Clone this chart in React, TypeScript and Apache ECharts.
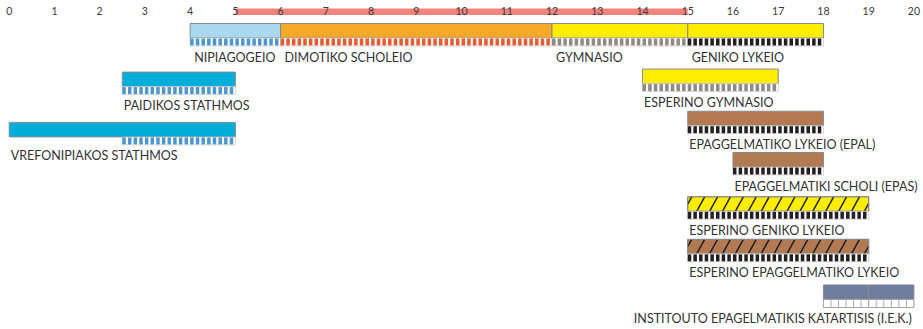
import React, { useEffect, useRef } from "react";
import * as echarts from "echarts";

// ---- data ----
const schoolLabels = [
  "NIPIAGOGEIO",
  "DIMOTIKO SCHOLEIO",
  "GYMNASIO",
  "GENIKO LYKEIO",
  "PAIDIKOS STATHMOS",
  "VREFONIPIAKOS STATHMOS",
  "ESPERINO GYMNASIO",
  "EPAGGELMATIKO LYKEIO (EPAL)",
  "EPAGGELMATIKI SCHOLI (EPAS)",
  "ESPERINO GENIKO LYKEIO",
  "ESPERINO EPAGGELMATIKO LYKEIO",
  "INSTITOUTO EPAGELMATIKIS KATARTISIS (I.E.K.)",
  "",
];
const startAges = [4, 6, 12, 15, 2.5, 0, 14, 15, 16, 15, 15, 18, 19];
const endAges = [6, 12, 15, 18, 5, 5, 17, 18, 18, 19, 19, 19, 20];
const stripeStartAges = [4, 6, 12, 15, 2.5, 2.5, 14, 15, 16, 15, 15, 18, 19];
const rowLevels = [0, 0, 0, 0, 1.13, 2.3, 1.06, 2.04, 3.0, 4.03, 5.02, 6.08, 6.08];
const hatched = [false, false, false, false, false, false, false, false, false, true, true, false, false];
const labelRightAligned = [false, false, false, false, false, false, false, false, false, false, false, true, false];
const compulsoryStart = 5;
const compulsoryEnd = 15;
const ageTicks = [0, 20];

// ---- styles ----
const LIGHTBLUE = "#A9D9F0";
const CYAN = "#00AEDA";
const ORANGE = "#F6A828";
const YELLOW = "#FFED00";
const BROWN = "#B27A53";
const SLATE = "#6D7E9F";
const fillColors = [LIGHTBLUE, ORANGE, YELLOW, YELLOW, CYAN, CYAN, YELLOW, BROWN, BROWN, YELLOW, BROWN, SLATE, SLATE];
const BLUE_ST = "#4C97CF";
const RED_ST = "#EA5A2F";
const GRAY_ST = "#8F8A89";
const BLACK_ST = "#231F20";
const stripeColors = [BLUE_ST, RED_ST, GRAY_ST, BLACK_ST, BLUE_ST, BLUE_ST, GRAY_ST, BLACK_ST, BLACK_ST, BLACK_ST, BLACK_ST, "cells", "cells"];

const BAR_H = 14.5;
const STRIPE_H = 8;
const BORDER = "#8a8a8a";
const TEXT = "#333333";
const FONT = "Lato";

export default function App() {
  const ref = useRef<HTMLDivElement>(null);
  useEffect(() => {
    if (!ref.current) return;
    const chart = echarts.init(ref.current, undefined, { renderer: "svg" });

    const data = startAges.map((s, i) => [s, endAges[i], rowLevels[i], stripeStartAges[i]]);

    const renderBar = (params: any, api: any) => {
      const i = params.dataIndex;
      const start = api.value(0);
      const end = api.value(1);
      const row = api.value(2);
      const sStart = api.value(3);
      const p0 = api.coord([start, row]);
      const p1 = api.coord([end, row]);
      const ps = api.coord([sStart, row]);
      const top = p0[1];
      const x0 = p0[0];
      const x1 = p1[0];
      const bottom = top + BAR_H;
      const children: any[] = [];
      children.push({
        type: "rect",
        shape: { x: x0, y: top, width: x1 - x0, height: BAR_H },
        style: { fill: fillColors[i], stroke: BORDER, lineWidth: 1 },
      });
      if (hatched[i]) {
        const spacing = 12.9;
        const dx = 8;
        for (let xb = x0 - dx + 4; xb < x1; xb += spacing) {
          let sx = xb, sy = bottom, ex = xb + dx, ey = top;
          if (sx < x0) {
            const t = (x0 - xb) / dx;
            sx = x0;
            sy = bottom - t * BAR_H;
          }
          if (ex > x1) {
            const t = (x1 - xb) / dx;
            ex = x1;
            ey = bottom - t * BAR_H;
          }
          if (ex <= sx) continue;
          children.push({
            type: "line",
            shape: { x1: sx, y1: sy, x2: ex, y2: ey },
            style: { stroke: "#1a1a1a", lineWidth: 1.4 },
          });
        }
        children.push({
          type: "rect",
          shape: { x: x0, y: top, width: x1 - x0, height: BAR_H },
          style: { fill: "none", stroke: BORDER, lineWidth: 1 },
        });
      }
      // stripe row
      const sx0 = ps[0];
      children.push({
        type: "rect",
        shape: { x: sx0, y: bottom, width: x1 - sx0, height: STRIPE_H },
        style: { fill: "#ffffff", stroke: "#bdbdbd", lineWidth: 0.6 },
      });
      const sc = stripeColors[i];
      if (sc === "cells") {
        const step = 1 / 6;
        for (let v = sStart + step; v < end - 1e-6; v += step) {
          const xx = api.coord([v, row])[0];
          children.push({
            type: "line",
            shape: { x1: xx, y1: bottom, x2: xx, y2: bottom + STRIPE_H },
            style: { stroke: "#9a9a9a", lineWidth: 0.8 },
          });
        }
        children.push({
          type: "rect",
          shape: { x: sx0, y: bottom, width: x1 - sx0, height: STRIPE_H },
          style: { fill: "none", stroke: "#9a9a9a", lineWidth: 0.8 },
        });
      } else {
        const step = 1 / 8;
        for (let v = sStart; v < end - 1e-6; v += step) {
          const xa = api.coord([v, row])[0];
          const xb = api.coord([Math.min(v + step * 0.62, end), row])[0];
          children.push({
            type: "rect",
            shape: { x: xa, y: bottom + 0.5, width: xb - xa, height: STRIPE_H - 1 },
            style: { fill: sc },
          });
        }
      }
      const label = schoolLabels[i];
      if (label) {
        const right = labelRightAligned[i];
        const lx = right ? api.coord([20, row])[0] - 2 : x0 + (row === 0 ? 4 : 1.5);
        children.push({
          type: "text",
          style: {
            text: label,
            x: lx,
            y: top + 33.5,
            fill: TEXT,
            fontSize: 12.5,
            fontFamily: FONT,
            align: right ? "right" : "left",
            verticalAlign: "middle",
          },
        });
      }
      return { type: "group", children };
    };

    const renderBand = (params: any, api: any) => {
      const a = api.coord([api.value(0), 0]);
      const b = api.coord([api.value(1), 0]);
      const gy = params.coordSys.y;
      return {
        type: "rect",
        shape: { x: a[0], y: gy - 15, width: b[0] - a[0], height: 6.5 },
        style: { fill: "#F1847C" },
      };
    };

    chart.setOption({
      animation: false,
      grid: { left: 9.2, right: 6.2, top: 23.5, bottom: 21.7 },
      xAxis: {
        type: "value",
        position: "top",
        min: ageTicks[0],
        max: ageTicks[1],
        interval: 1,
        z: 10,
        axisLine: { show: false },
        axisTick: { show: false },
        splitLine: { show: false },
        axisLabel: { color: "#3a3a3a", fontSize: 10.5, fontFamily: FONT, margin: 7 },
      },
      yAxis: {
        type: "value",
        inverse: true,
        min: 0,
        max: 6.6,
        show: false,
      },
      series: [
        {
          type: "custom",
          clip: false,
          z: 1,
          renderItem: renderBand,
          data: [[compulsoryStart, compulsoryEnd]],
          encode: { x: [0, 1] },
        },
        {
          type: "custom",
          clip: false,
          renderItem: renderBar,
          data,
          encode: { x: [0, 1], y: 2 },
        },
      ],
    });
    return () => chart.dispose();
  }, []);
  return (
    <div
      ref={ref}
      style={{ position: "absolute", left: 0, top: 0, width: 923, height: 329, background: "#fff" }}
    />
  );
}
